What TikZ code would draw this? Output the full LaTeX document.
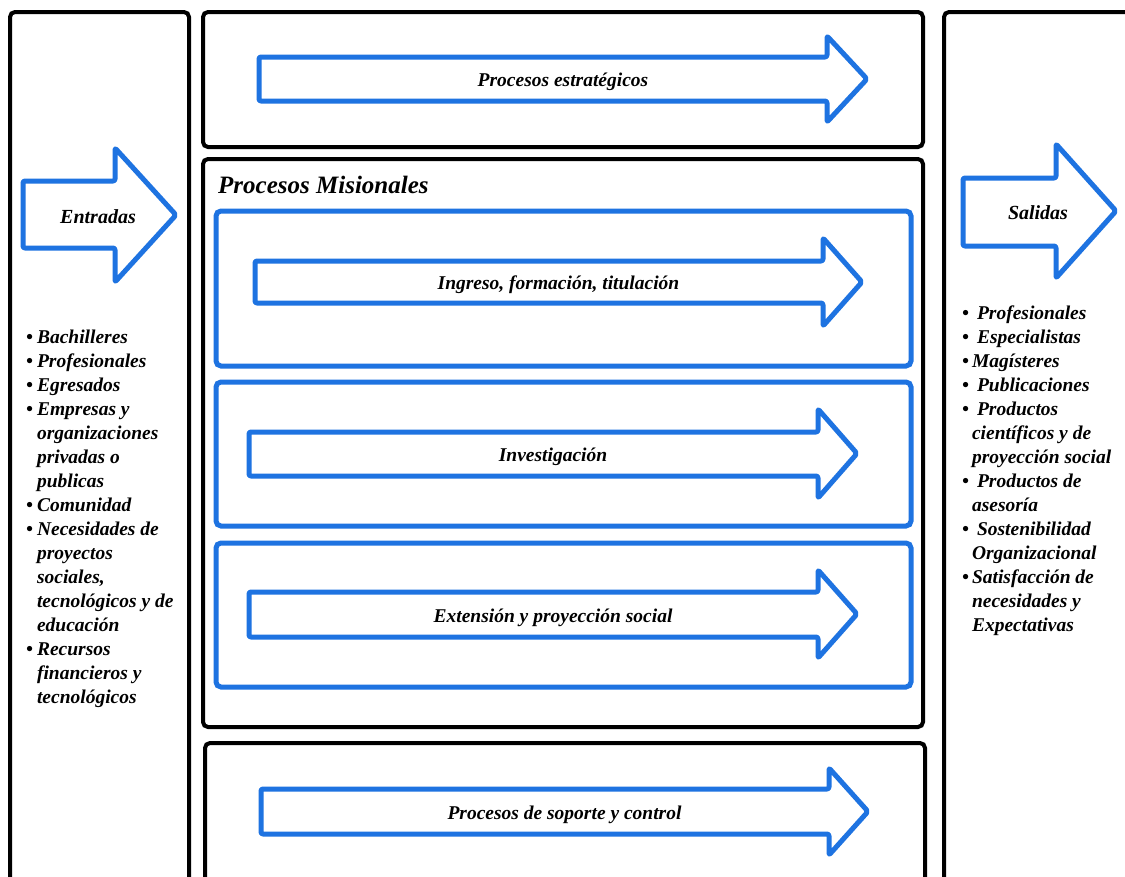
\documentclass[tikz,border=0pt]{standalone}
\usepackage{fontspec}
\setmainfont{Liberation Serif}
\definecolor{arrowblue}{RGB}{30,115,225}
\tikzset{
  outerbox/.style={draw=black, line width=4pt, rounded corners=5pt},
  innerbox/.style={draw=arrowblue, line width=5pt, rounded corners=5pt},
  blockarrow/.style={draw=arrowblue, line width=5pt, rounded corners=2pt, line join=round, fill=white},
  arrowtext/.style={font=\fontsize{19.5}{23}\selectfont\bfseries\itshape, inner sep=0pt},
  sidetext/.style={font=\fontsize{20}{24}\selectfont\bfseries\itshape, inner sep=0pt},
  listtext/.style={font=\fontsize{19.5}{24}\selectfont\bfseries\itshape, inner sep=0pt, anchor=north west, align=left},
}
% name, x0, x1 (head base), xt (tip), ys0, ys1, yh0, yh1, text
\newcommand\blkarrow[9]{%
  \draw[blockarrow] (#2,#5) -- (#3,#5) -- (#3,#7) -- (#4,{(#7+#8)/2}) -- (#3,#8) -- (#3,#6) -- (#2,#6) -- cycle;
  \node[arrowtext] (#1) at ({(#2+#4)/2},{(#5+#6)/2+3}) {#9};
}
\begin{document}
\begin{tikzpicture}[x=1pt,y=-1pt]
\path[use as bounding box] (0,0) rectangle (1125,876);
\clip (0,0) rectangle (1125,876);
\fill[white] (0,0) rectangle (1125,876);
% outer boxes
\draw[outerbox] (10,900) -- (10,12) -- (189,12) -- (189,900);
\draw[outerbox] (203,12) rectangle (923,147);
\draw[outerbox] (203,159) rectangle (923,727);
\draw[outerbox] (205,900) -- (205,743) -- (925,743) -- (925,900);
\draw[outerbox] (944,900) -- (944,12) -- (1140,12);
% inner blue boxes
\draw[innerbox] (216,211) rectangle (911,366);
\draw[innerbox] (216,382) rectangle (911,526);
\draw[innerbox] (216,543) rectangle (911,687);
% arrows
\blkarrow{estr}{259}{827}{867}{57}{101}{36}{122}{Procesos estratégicos}
\blkarrow{ingr}{255}{823}{862}{261}{303}{238}{326}{Ingreso, formación, titulación}
\blkarrow{inv}{249}{818}{857}{432}{476}{409}{498}{Investigación}
\blkarrow{ext}{249}{818}{857}{592}{637}{570}{658}{Extensión y proyección social}
\blkarrow{sop}{261}{829}{868}{789}{834}{768}{855}{Procesos de soporte y control}
% side arrows
\draw[blockarrow] (23,181) -- (115,181) -- (115,148) -- (176,215) -- (115,282) -- (115,248) -- (23,248) -- cycle;
\node[sidetext] (entr) at (98,217) {Entradas};
\draw[blockarrow] (963,178) -- (1056,178) -- (1056,144) -- (1116,211) -- (1056,278) -- (1056,246) -- (963,246) -- cycle;
\node[sidetext] (sal) at (1038,213) {Salidas};
% title
\node[font=\fontsize{25}{29}\selectfont\bfseries\itshape, inner sep=0pt, anchor=west] (mis) at (218,185) {Procesos Misionales};
% lists
\node[listtext] (inlist) at (26,326) {%
\begin{tabular}{@{}l@{\hspace{4pt}}l@{}}
\textbullet & Bachilleres\\
\textbullet & Profesionales\\
\textbullet & Egresados\\
\textbullet & Empresas y\\
 & organizaciones\\
 & privadas o\\
 & publicas\\
\textbullet & Comunidad\\
\textbullet & Necesidades de\\
 & proyectos\\
 & sociales,\\
 & tecnológicos y de\\
 & educación\\
\textbullet & Recursos\\
 & financieros y\\
 & tecnológicos
\end{tabular}};
\node[listtext] (outlist) at (962,302) {%
\begin{tabular}{@{}l@{\hspace{3pt}}l@{}}
\textbullet & \hspace{5pt}Profesionales\\
\textbullet & \hspace{5pt}Especialistas\\
\textbullet & Magísteres\\
\textbullet & \hspace{5pt}Publicaciones\\
\textbullet & \hspace{5pt}Productos\\
 & científicos y de\\
 & proyección social\\
\textbullet & \hspace{5pt}Productos de\\
 & asesoría\\
\textbullet & \hspace{5pt}Sostenibilidad\\
 & Organizacional\\
\textbullet & Satisfacción de\\
 & necesidades y\\
 & Expectativas
\end{tabular}};
\end{tikzpicture}
\end{document}
